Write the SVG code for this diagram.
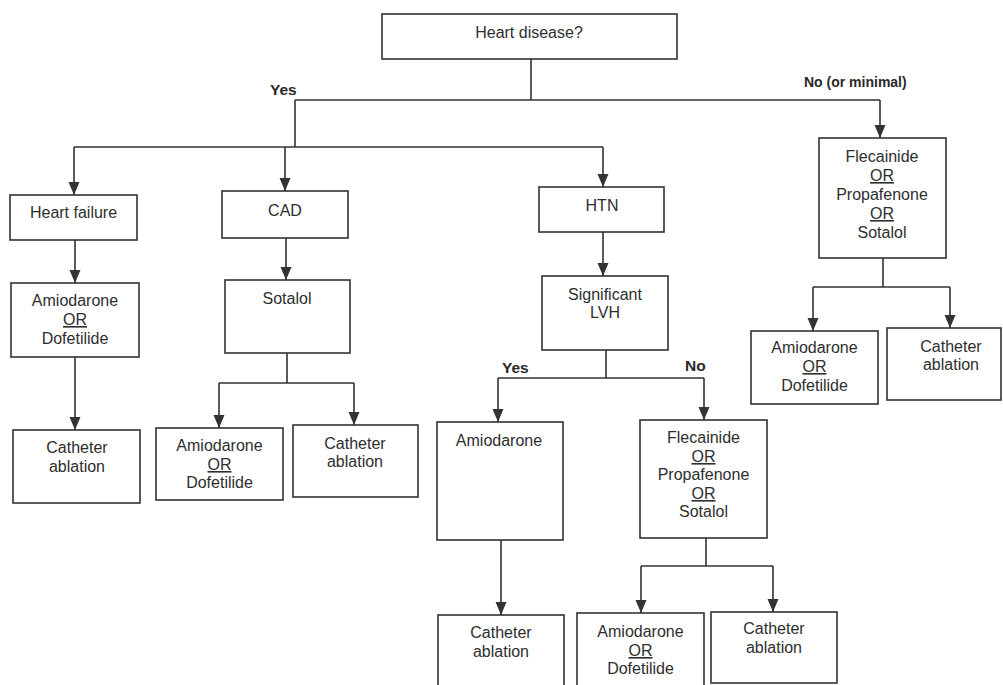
<svg xmlns="http://www.w3.org/2000/svg" width="1003" height="685" viewBox="0 0 1003 685">
  <style>
    .box { fill: #ffffff; stroke: #333333; stroke-width: 1.6; }
    .t { font-family: "Liberation Sans", Arial, sans-serif; font-size: 16px; fill: #2e2e2e; text-anchor: middle; }
    .u { text-decoration: underline; }
    .lbl { font-family: "Liberation Sans", Arial, sans-serif; font-size: 14px; font-weight: bold; fill: #2a2a2a; }
    .big { font-size: 15.5px; }
    .ln { fill: none; stroke: #333333; stroke-width: 1.6; }
    .arr { fill: none; stroke: #333333; stroke-width: 1.6; marker-end: url(#head); }
  </style>
  <defs>
    <marker id="head" markerUnits="userSpaceOnUse" markerWidth="14" markerHeight="12" refX="13" refY="5.5" orient="auto">
      <path d="M0,0 L13,5.5 L0,11 z" fill="#333333"/>
    </marker>
  </defs>
  <rect width="1003" height="685" fill="#ffffff"/>

  <!-- connectors -->
  <g id="connectors">
    <path class="ln" d="M531,59 V100 M295,100 H880 M295,100 V147 M74,147 H603"/>
    <path class="arr" d="M880,100 V138"/>
    <path class="arr" d="M74,147 V195"/>
    <path class="arr" d="M285,147 V191"/>
    <path class="arr" d="M603,147 V187"/>
    <!-- heart failure branch -->
    <path class="arr" d="M75,240 V283"/>
    <path class="arr" d="M75,357 V430"/>
    <!-- CAD branch -->
    <path class="arr" d="M286,238 V280"/>
    <path class="ln" d="M287,353 V383 M219,383 H354"/>
    <path class="arr" d="M219,383 V428"/>
    <path class="arr" d="M354,383 V425"/>
    <!-- HTN branch -->
    <path class="arr" d="M603,232 V276"/>
    <path class="ln" d="M606,350 V378 M498,378 H704"/>
    <path class="arr" d="M498,378 V422"/>
    <path class="arr" d="M704,378 V420"/>
    <path class="arr" d="M501,540 V615"/>
    <path class="ln" d="M706,538 V566 M641,566 H773"/>
    <path class="arr" d="M641,566 V613"/>
    <path class="arr" d="M773,566 V612"/>
    <!-- no heart disease branch -->
    <path class="ln" d="M883,258 V287 M813,287 H950"/>
    <path class="arr" d="M813,287 V331"/>
    <path class="arr" d="M950,287 V328"/>
  </g>

  <!-- branch labels -->
  <g id="labels">
    <text class="lbl big" x="270" y="95">Yes</text>
    <text class="lbl" x="804" y="87">No (or minimal)</text>
    <text class="lbl big" x="502" y="373">Yes</text>
    <text class="lbl big" x="685" y="371">No</text>
  </g>

  <g id="heart-disease">
    <rect class="box" x="382" y="14" width="295" height="45"/>
    <text class="t" x="529" y="38">Heart disease?</text>
  </g>

  <g id="heart-failure">
    <rect class="box" x="10" y="195" width="127" height="45"/>
    <text class="t" x="73.5" y="218">Heart failure</text>
  </g>

  <g id="cad">
    <rect class="box" x="222" y="191" width="126" height="47"/>
    <text class="t" x="285" y="216">CAD</text>
  </g>

  <g id="htn">
    <rect class="box" x="539" y="187" width="125" height="45"/>
    <text class="t" x="602" y="211">HTN</text>
  </g>

  <g id="no-hd-drugs">
    <rect class="box" x="819" y="138" width="127" height="120"/>
    <text class="t" x="882" y="162">Flecainide</text>
    <text class="t u" x="882" y="181">OR</text>
    <text class="t" x="882" y="200">Propafenone</text>
    <text class="t u" x="882" y="219">OR</text>
    <text class="t" x="882" y="238">Sotalol</text>
  </g>

  <g id="hf-drugs">
    <rect class="box" x="11" y="283" width="128" height="74"/>
    <text class="t" x="75" y="306">Amiodarone</text>
    <text class="t u" x="75" y="325">OR</text>
    <text class="t" x="75" y="344">Dofetilide</text>
  </g>

  <g id="cad-sotalol">
    <rect class="box" x="225" y="280" width="125" height="73"/>
    <text class="t" x="287" y="304">Sotalol</text>
  </g>

  <g id="lvh">
    <rect class="box" x="542" y="276" width="126" height="74"/>
    <text class="t" x="605" y="300">Significant</text>
    <text class="t" x="605" y="318">LVH</text>
  </g>

  <g id="no-hd-amio">
    <rect class="box" x="751" y="331" width="127" height="73"/>
    <text class="t" x="814.5" y="353">Amiodarone</text>
    <text class="t u" x="814.5" y="372">OR</text>
    <text class="t" x="814.5" y="391">Dofetilide</text>
  </g>

  <g id="no-hd-ablation">
    <rect class="box" x="887" y="328" width="114" height="72"/>
    <text class="t" x="951" y="352">Catheter</text>
    <text class="t" x="951" y="370">ablation</text>
  </g>

  <g id="hf-ablation">
    <rect class="box" x="13" y="430" width="127" height="73"/>
    <text class="t" x="77" y="453">Catheter</text>
    <text class="t" x="77" y="472">ablation</text>
  </g>

  <g id="cad-amio">
    <rect class="box" x="156" y="428" width="127" height="72"/>
    <text class="t" x="219.5" y="451">Amiodarone</text>
    <text class="t u" x="219.5" y="470">OR</text>
    <text class="t" x="219.5" y="488">Dofetilide</text>
  </g>

  <g id="cad-ablation">
    <rect class="box" x="293" y="425" width="125" height="72"/>
    <text class="t" x="355" y="449">Catheter</text>
    <text class="t" x="355" y="467">ablation</text>
  </g>

  <g id="lvh-amio">
    <rect class="box" x="437" y="422" width="126" height="118"/>
    <text class="t" x="499" y="446">Amiodarone</text>
  </g>

  <g id="lvh-no-drugs">
    <rect class="box" x="640" y="420" width="127" height="118"/>
    <text class="t" x="703.5" y="443">Flecainide</text>
    <text class="t u" x="703.5" y="462">OR</text>
    <text class="t" x="703.5" y="480">Propafenone</text>
    <text class="t u" x="703.5" y="499">OR</text>
    <text class="t" x="703.5" y="517">Sotalol</text>
  </g>

  <g id="lvh-ablation">
    <rect class="box" x="438" y="615" width="126" height="80"/>
    <text class="t" x="501" y="638">Catheter</text>
    <text class="t" x="501" y="657">ablation</text>
  </g>

  <g id="flec-amio">
    <rect class="box" x="577" y="613" width="127" height="82"/>
    <text class="t" x="640.5" y="637">Amiodarone</text>
    <text class="t u" x="640.5" y="656">OR</text>
    <text class="t" x="640.5" y="674">Dofetilide</text>
  </g>

  <g id="flec-ablation">
    <rect class="box" x="711" y="612" width="126" height="71"/>
    <text class="t" x="774" y="634">Catheter</text>
    <text class="t" x="774" y="653">ablation</text>
  </g>
</svg>
